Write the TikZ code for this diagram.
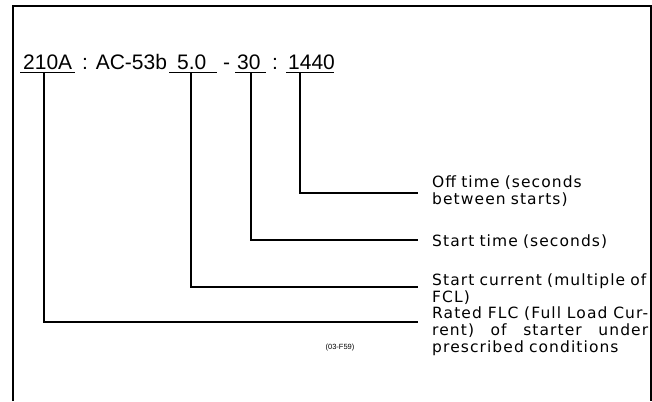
\documentclass[tikz,border=0pt]{standalone}
\usepackage{fontspec}
\setmainfont{Liberation Sans}
\newfontfamily\lblfont[LetterSpace=7]{DejaVu Sans}
\newcommand{\fullline}[1]{\makebox[216pt][l]{#1}}
\begin{document}
\begin{tikzpicture}[x=1pt,y=-1pt,
  codetext/.style={anchor=base west,inner sep=0pt,font=\fontsize{21}{24}\selectfont},
  lbl/.style={anchor=base west,inner sep=0pt,text width=240pt,align=left,font=\lblfont\fontsize{15.5}{17}\selectfont},
  uline/.style={line width=1pt},
  conn/.style={line width=1.2pt},
  frame/.style={line width=1.8pt}]
\useasboundingbox (0,0) rectangle (652,401);
\draw[frame] (13,401) -- (13,6) -- (651,6) -- (651,401);
% code line
\node[codetext] (n210) at (23,70) {210A};
\node[codetext] (nac) at (82,70) {: AC-53b};
\node[codetext] (n50) at (177,70) {5.0};
\node[codetext] (ndash) at (223,70) {-};
\node[codetext] (n30) at (237,70) {30};
\node[codetext] (ncol) at (272,70) {:};
\node[codetext] (n1440) at (288,70) {1440};
\draw[uline] (20,73) -- (75,73);
\draw[uline] (169,73) -- (217,73);
\draw[uline] (235,73) -- (266,73);
\draw[uline] (286,73) -- (334,73);
% connector start points
\coordinate (s210) at (44,73);
\coordinate (s50) at (191,73);
\coordinate (s30) at (251,73);
\coordinate (s1440) at (300,73);
\coordinate (e210) at (418,322);
\coordinate (e50) at (418,287);
\coordinate (e30) at (418,240);
\coordinate (e1440) at (418,193);
% labels
\node[lbl] (l1440) at (432,187.5) {Off time (seconds\\between starts)};
\node[lbl] (l30) at (432,246) {Start time (seconds)};
\node[lbl] (l50) at (432,285.5) {Start current (multiple of\\FCL)};
\node[lbl] (l210) at (432,318.5) {\fullline{Rated\hfill FLC\hfill (Full\hfill Load\hfill Cur-}\\\fullline{rent)\hfill of\hfill starter\hfill under}\\prescribed conditions};
\node[inner sep=0pt,font=\fontsize{7.5}{8}\selectfont] (fig) at (340,348) {(03-F59)};
% connectors
\draw[conn] (s1440) |- (e1440);
\draw[conn] (s30) |- (e30);
\draw[conn] (s50) |- (e50);
\draw[conn] (s210) |- (e210);
\end{tikzpicture}
\end{document}
